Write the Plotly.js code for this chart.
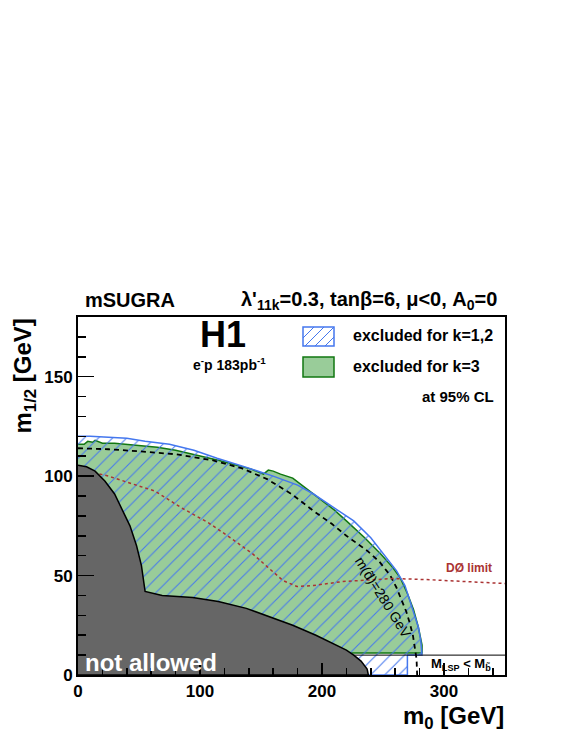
<!DOCTYPE html>
<html>
<head>
<meta charset="utf-8">
<script src="https://cdn.plot.ly/plotly-3.0.1.min.js"></script>
<style>
  html, body { margin: 0; padding: 0; background: #fff; }
  #chart { width: 567px; height: 733px; }
</style>
</head>
<body>
<div id="chart"></div>
<script>
// excluded region for k=1,2 (hatched), upper contour
const k12X = [0, 10, 25, 40, 55, 75, 95, 114, 135, 160, 180, 193, 210, 226, 240, 250, 261, 268, 272, 276, 279, 281, 282, 282, 270, 270, 0];
const k12Y = [120, 120, 119.5, 119, 117.5, 116, 113, 109, 105, 100, 95.5, 91, 84, 77.5, 69, 61, 52.5, 45, 37.5, 30, 24, 17, 12, 10, 10, 0, 0];

// excluded region for k=3 (green)
const k3X = [0, 5, 8, 12, 14, 20, 30, 40, 52, 65, 80, 95, 115, 130, 142, 152, 156, 160, 166, 176, 193, 210, 220, 235, 248, 258, 264, 270, 275, 279, 282, 282, 0];
const k3Y = [116, 116, 117.5, 117, 118, 116.5, 116.5, 116, 115.5, 114.5, 113, 111, 108, 105.5, 103.5, 101, 103, 102.5, 101, 99, 91, 83, 77.5, 69, 61, 54, 49, 41, 33, 24, 15, 11, 11];

// m(d~) = 280 GeV contour
const sqX = [0, 25, 50, 80, 110, 134, 155, 175, 193, 208, 220, 230, 237, 247, 256, 261, 265.5, 269, 272, 274.5, 276, 277.5, 278];
const sqY = [114, 113.5, 112.5, 111, 108, 104, 98.5, 91, 82.5, 76, 70, 65.5, 62.5, 57, 50, 44, 37.5, 32, 26, 20, 14, 8, 0];

// D0 limit
const d0X = [8, 25, 45, 63, 85, 107, 125, 143, 155, 168, 179.5, 193, 217, 240, 258, 285, 313, 335, 350];
const d0Y = [102.5, 100, 96, 92.5, 84, 76.5, 69, 61, 54.5, 47.5, 44.5, 45, 47, 48, 48.5, 48, 47, 46.5, 46];

// theoretically not allowed region
const naX = [0, 7, 14, 22, 30, 37, 42.6, 48, 52, 55, 69, 94, 115, 138, 160, 176, 195, 209, 220, 226, 232, 237, 238, 0];
const naY = [105.5, 104.7, 102.5, 97.5, 91, 82.5, 75, 65, 55, 42, 40, 39, 37, 33.5, 28.5, 25, 20, 16, 12.5, 10, 7, 3, 0, 0];

// M_LSP < M_b~ boundary
const lspX = [226, 350];
const lspY = [10, 10];

const xTicks = [0, 100, 200, 300];
const yTicks = [0, 50, 100, 150];

// pixel -> paper helpers for decorations
const L = 78, R = 505, T = 317, B = 675;
const px = v => (v - L) / (R - L);
const py = v => (B - v) / (B - T);

const bold = (size, color) => ({family: 'Liberation Sans, Arial, sans-serif', size: size, weight: 'bold', color: color || 'black'});

const data = [
  {x: k3X, y: k3Y, type: 'scatter', mode: 'lines', fill: 'toself',
   fillcolor: '#99cc99', line: {color: '#117711', width: 1.5}, hoverinfo: 'skip'},
  {x: k12X, y: k12Y, type: 'scatter', mode: 'lines', fill: 'toself',
   fillcolor: 'rgba(0,0,0,0)',
   fillpattern: {shape: '/', size: 10, solidity: 0.1, fgcolor: '#4477ee', bgcolor: 'rgba(0,0,0,0)'},
   line: {color: '#4477ee', width: 1.5}, hoverinfo: 'skip'},
  {x: sqX, y: sqY, type: 'scatter', mode: 'lines',
   line: {color: 'black', width: 1.8, dash: '5px,4px'}, hoverinfo: 'skip'},
  {x: d0X, y: d0Y, type: 'scatter', mode: 'lines',
   line: {color: '#aa3333', width: 1.5, dash: '3px,3px'}, hoverinfo: 'skip'},
  {x: naX, y: naY, type: 'scatter', mode: 'lines', fill: 'toself',
   fillcolor: '#666666', line: {color: 'black', width: 1.5}, hoverinfo: 'skip'},
  {x: lspX, y: lspY, type: 'scatter', mode: 'lines',
   line: {color: 'black', width: 1}, hoverinfo: 'skip'}
];

const hatchBox = [
  [303, 338, 314, 327],
  [305, 346, 324, 327],
  [315, 346, 334, 327],
  [325, 346, 334, 337]
].map(s => ({type: 'line', xref: 'paper', yref: 'paper',
  x0: px(s[0]), y0: py(s[1]), x1: px(s[2]), y1: py(s[3]),
  line: {color: '#4477ee', width: 1}}));

const layout = {
  width: 567,
  height: 733,
  margin: {l: L, r: 567 - R, t: T, b: 733 - B},
  paper_bgcolor: 'white',
  plot_bgcolor: 'white',
  showlegend: false,
  xaxis: {
    range: [0, 350],
    tickvals: xTicks,
    ticks: 'inside',
    ticklen: 12,
    tickwidth: 1.5,
    tickcolor: 'black',
    minor: {dtick: 20, ticks: 'inside', ticklen: 7, tickwidth: 1.5, tickcolor: 'black'},
    showline: true,
    linewidth: 2,
    linecolor: 'black',
    mirror: true,
    showgrid: false,
    zeroline: false,
    tickfont: bold(17),
    layer: 'above traces'
  },
  yaxis: {
    range: [0, 180],
    tickvals: yTicks,
    ticks: 'inside',
    ticklen: 16,
    tickwidth: 1.5,
    tickcolor: 'black',
    minor: {dtick: 10, ticks: 'inside', ticklen: 8, tickwidth: 1.5, tickcolor: 'black'},
    showline: true,
    linewidth: 2,
    linecolor: 'black',
    mirror: true,
    showgrid: false,
    zeroline: false,
    tickfont: bold(17),
    layer: 'above traces'
  },
  shapes: hatchBox.concat([
    {type: 'rect', xref: 'paper', yref: 'paper', x0: px(303), x1: px(334), y0: py(346), y1: py(327),
     line: {color: '#4477ee', width: 1.5}, fillcolor: 'rgba(0,0,0,0)'},
    {type: 'rect', xref: 'paper', yref: 'paper', x0: px(303), x1: px(334), y0: py(377), y1: py(357),
     line: {color: '#117711', width: 1.5}, fillcolor: '#99cc99'}
  ]),
  annotations: [
    {text: 'mSUGRA', xref: 'paper', yref: 'paper', x: px(83), y: py(300),
     xanchor: 'left', yanchor: 'middle', showarrow: false, font: bold(20)},
    {text: "λ'<sub>11k</sub>=0.3, tanβ=6, μ&lt;0, A<sub>0</sub>=0", xref: 'paper', yref: 'paper',
     x: px(499), y: py(300), xanchor: 'right', yanchor: 'middle', showarrow: false, font: bold(20)},
    {text: 'H1', xref: 'paper', yref: 'paper', x: px(223), y: py(334),
     xanchor: 'center', yanchor: 'middle', showarrow: false, font: bold(36)},
    {text: 'e<sup>-</sup>p 183pb<sup>-1</sup>', xref: 'paper', yref: 'paper', x: px(229), y: py(364),
     xanchor: 'center', yanchor: 'middle', showarrow: false, font: bold(14)},
    {text: 'excluded for k=1,2', xref: 'paper', yref: 'paper', x: px(351), y: py(335),
     xanchor: 'left', yanchor: 'middle', showarrow: false, font: bold(16)},
    {text: 'excluded for k=3', xref: 'paper', yref: 'paper', x: px(351), y: py(366),
     xanchor: 'left', yanchor: 'middle', showarrow: false, font: bold(16)},
    {text: 'at 95% CL', xref: 'paper', yref: 'paper', x: px(496), y: py(396),
     xanchor: 'right', yanchor: 'middle', showarrow: false, font: bold(15)},
    {text: 'DØ limit', xref: 'paper', yref: 'paper', x: px(494), y: py(568),
     xanchor: 'right', yanchor: 'middle', showarrow: false, font: bold(12, '#aa3333')},
    {text: 'm(d̃)=280 GeV', xref: 'paper', yref: 'paper', x: px(383), y: py(597),
     xanchor: 'center', yanchor: 'middle', textangle: 58, showarrow: false,
     font: {family: 'Liberation Sans, Arial, sans-serif', size: 14, color: 'black'}},
    {text: 'M<sub>LSP</sub> &lt; M<sub>b̃</sub>', xref: 'paper', yref: 'paper', x: px(461), y: py(664),
     xanchor: 'center', yanchor: 'middle', showarrow: false, font: bold(13)},
    {text: 'not allowed', xref: 'paper', yref: 'paper', x: px(83), y: py(662),
     xanchor: 'left', yanchor: 'middle', showarrow: false, font: bold(24, 'white')},
    {text: 'm<sub>1/2</sub> [GeV]', xref: 'paper', yref: 'paper', x: px(24), y: 1,
     xanchor: 'center', yanchor: 'top', textangle: -90, showarrow: false, font: bold(24)},
    {text: 'm<sub>0</sub> [GeV]', xref: 'paper', yref: 'paper', x: 1, y: py(717),
     xanchor: 'right', yanchor: 'middle', showarrow: false, font: bold(24), borderpad: 0}
  ]
};

Plotly.newPlot('chart', data, layout, {displayModeBar: false, staticPlot: true});
</script>
</body>
</html>
